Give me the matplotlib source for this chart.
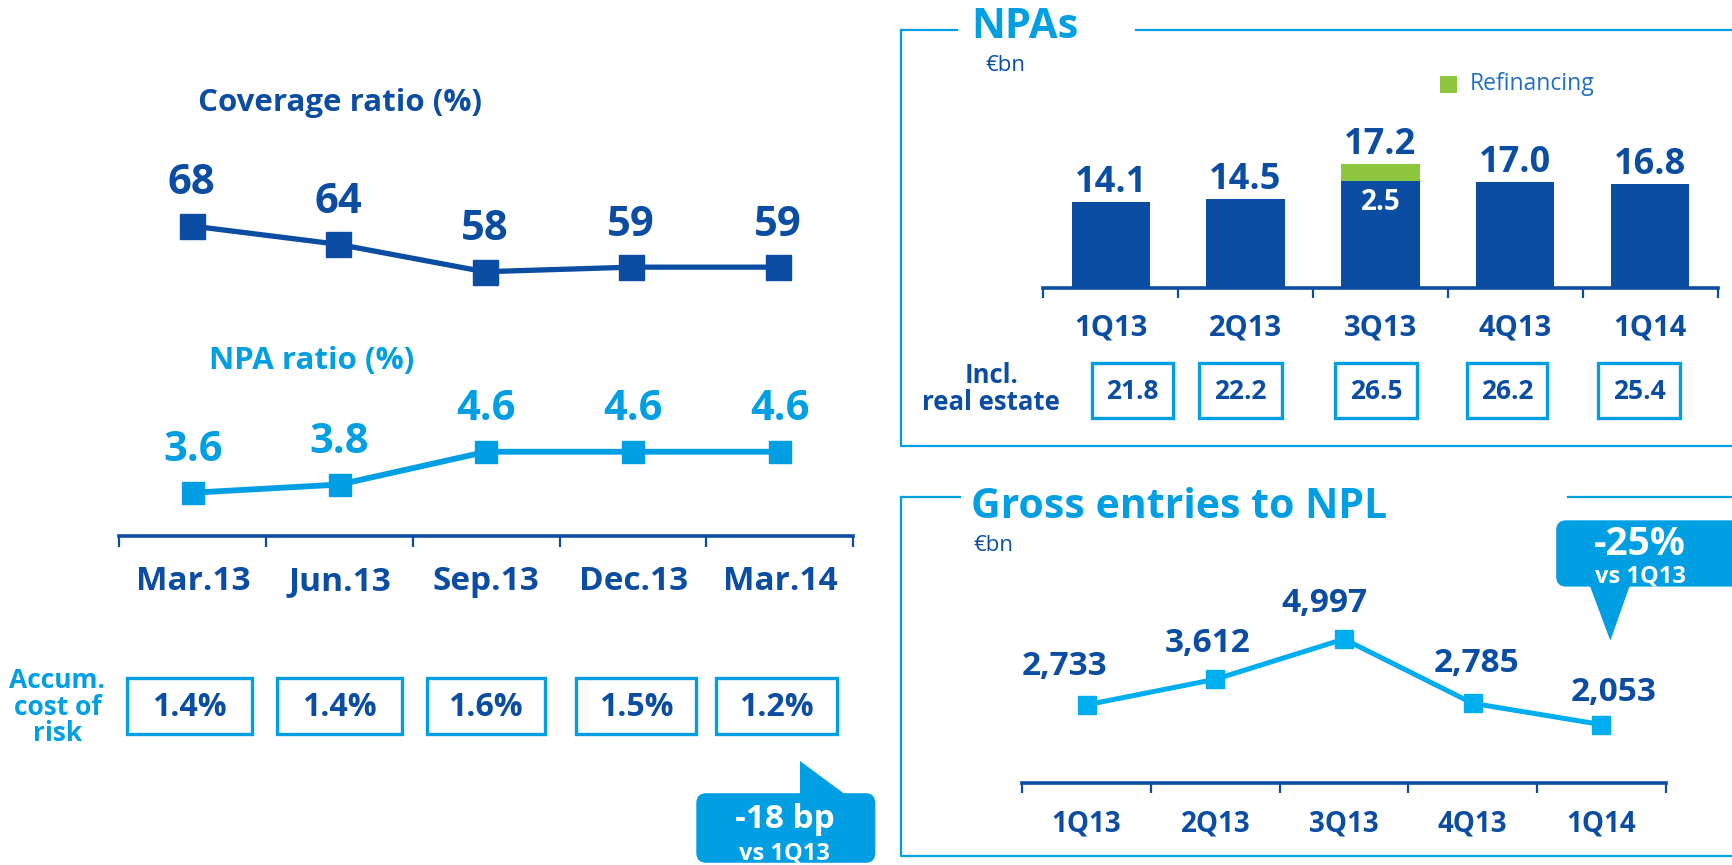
import matplotlib
matplotlib.use('Agg')
import matplotlib.pyplot as plt
from matplotlib.patches import Rectangle, FancyBboxPatch, Polygon

# ---------------- data ----------------
months = ['Mar.13', 'Jun.13', 'Sep.13', 'Dec.13', 'Mar.14']
coverage = [68, 64, 58, 59, 59]
npa_ratio = [3.6, 3.8, 4.6, 4.6, 4.6]
cost_of_risk = ['1.4%', '1.4%', '1.6%', '1.5%', '1.2%']

quarters = ['1Q13', '2Q13', '3Q13', '4Q13', '1Q14']
npa_total = [14.1, 14.5, 17.2, 17.0, 16.8]
refinancing = [0, 0, 2.5, 0, 0]
npa_incl_re = ['21.8', '22.2', '26.5', '26.2', '25.4']

gross_entries = [2733, 3612, 4997, 2785, 2053]
gross_labels = ['2,733', '3,612', '4,997', '2,785', '2,053']

# ---------------- style ----------------
plt.rcParams['font.family'] = ['Open Sans', 'DejaVu Sans']
DARK = '#0B4DA2'
LIGHT = '#009FE3'
CYAN = '#00AEEF'
GREEN = '#8DC63F'

W, H = 1568, 783  # layout units (reference display size)
fig = plt.figure(figsize=(17.33, 8.65), dpi=100)


def rect(x0, y0, x1, y1):
    return [x0 / W, 1 - y1 / H, (x1 - x0) / W, (y1 - y0) / H]


ov = fig.add_axes([0, 0, 1, 1])
ov.set_xlim(0, W)
ov.set_ylim(H, 0)
ov.axis('off')


def T(x, y, s, size, color=DARK, weight='bold', ha='center', va='center', **kw):
    ov.text(x, y, s, fontsize=size, color=color, fontweight=weight, ha=ha, va=va, **kw)


def box(x0, y0, x1, y1, color=LIGHT, lw=2.4):
    ov.add_patch(Rectangle((x0, y0), x1 - x0, y1 - y0, fill=False, edgecolor=color, lw=lw))


def style_axis(ax, labels, pad, size, ticklen=7):
    for s in ['top', 'left', 'right']:
        ax.spines[s].set_visible(False)
    ax.spines['bottom'].set_color(DARK)
    ax.spines['bottom'].set_linewidth(2.6)
    ax.set_yticks([])
    ax.set_xticks([i - 0.5 for i in range(len(labels) + 1)])
    ax.set_xticklabels([])
    ax.tick_params(axis='x', which='major', direction='out', length=ticklen, width=1.6, color=DARK)
    ax.set_xticks(range(len(labels)), minor=True)
    ax.set_xticklabels(labels, minor=True)
    ax.tick_params(axis='x', which='minor', length=0, pad=pad, labelsize=size, labelcolor=DARK)
    for t in ax.get_xticklabels(minor=True):
        t.set_fontweight('bold')
    ax.patch.set_alpha(0)


# ---------------- left: coverage ratio ----------------
T(308, 93, 'Coverage ratio (%)', 22.5)
ax1 = fig.add_axes(rect(107, 130, 770, 270))
ax1.set_xlim(-0.5, 4.5)
ax1.set_ylim(52.2, 86.0)
ax1.axis('off')
ax1.plot(range(5), coverage, color=DARK, lw=3.8, marker='s', ms=18, mfc=DARK, mec=DARK)
for i, v in enumerate(coverage):
    ax1.annotate(f'{v}', (i, v), xytext=(0, 42), textcoords='offset pixels',
                 ha='center', va='center', fontsize=30, fontweight='bold', color=DARK)

# ---------------- left: NPA ratio ----------------
T(282, 327, 'NPA ratio (%)', 22.5, color=LIGHT)
ax2 = fig.add_axes(rect(108, 360, 772, 485))
ax2.set_xlim(-0.5, 4.5)
ax2.set_ylim(2.549, 5.918)
ax2.plot(range(5), npa_ratio, color=LIGHT, lw=4.2, marker='s', ms=16.5, mfc=LIGHT, mec=LIGHT)
for i, v in enumerate(npa_ratio):
    ax2.annotate(f'{v:.1f}', (i, v), xytext=(0, 42), textcoords='offset pixels',
                 ha='center', va='center', fontsize=30, fontweight='bold', color=LIGHT)
style_axis(ax2, months, pad=21, size=24, ticklen=8)

# cost of risk boxes
T(52, 640, 'Accum.\ncost of\nrisk', 19, color=LIGHT, linespacing=0.98)
left_boxes = [(115, 228), (251, 364), (386, 493), (521, 630), (648, 757)]
for (x0, x1), s in zip(left_boxes, cost_of_risk):
    box(x0, 614, x1, 664)
    T((x0 + x1) / 2, 640, s, 23)

# -18 bp callout
ov.add_patch(FancyBboxPatch((630, 718), 162, 63, boxstyle='round,pad=0,rounding_size=9',
                            fc=LIGHT, ec='none'))
ov.add_patch(Polygon([(724, 689), (724, 720), (765, 720)], closed=True, fc=LIGHT, ec='none'))
T(710, 742, '-18 bp', 24, color='white')
T(710, 773, 'vs 1Q13', 17, color='white')

# ---------------- right top: NPAs ----------------
ov.plot([815, 815, W + 5], [27, 404, 404], color=LIGHT, lw=1.6)
ov.plot([815, 866], [27, 27], color=LIGHT, lw=1.6)
ov.plot([1028, W + 5], [27, 27], color=LIGHT, lw=1.6)
T(879, 25, 'NPAs', 30, color=LIGHT, ha='left')
T(892, 59, '€bn', 16, weight='normal', ha='left')
ov.add_patch(Rectangle((1303, 69), 15, 15, fc=GREEN, ec='none'))
T(1330, 76, 'Refinancing', 16.5, color='#1F6FC5', weight='normal', ha='left')

ax3 = fig.add_axes(rect(944, 100, 1554, 261))
ax3.set_xlim(-0.5, 4.5)
ax3.set_ylim(1.0, 1.0 + 161 / 6.0)
ax3.bar(range(5), npa_total, width=0.58, color=DARK, zorder=2)
ref_x = [i for i, r in enumerate(refinancing) if r > 0]
ax3.bar(ref_x, [refinancing[i] for i in ref_x], bottom=[npa_total[i] for i in ref_x],
        width=0.58, color=GREEN, zorder=2)
for i, (v, r) in enumerate(zip(npa_total, refinancing)):
    ax3.annotate(f'{v:.1f}', (i, v + r), xytext=(0, 19), textcoords='offset pixels',
                 ha='center', va='center', fontsize=26, fontweight='bold', color=DARK)
    if r > 0:
        ax3.annotate(f'{r:.1f}', (i, v), xytext=(0, -22), textcoords='offset pixels',
                     ha='center', va='center', fontsize=20, fontweight='bold', color='white')
style_axis(ax3, quarters, pad=18, size=21, ticklen=7)

T(897, 352, 'Incl.\nreal estate', 18.5, linespacing=1.0)
npa_boxes = [(988, 1061), (1085, 1160), (1208, 1282), (1327, 1400), (1446, 1520)]
for (x0, x1), s in zip(npa_boxes, npa_incl_re):
    box(x0, 329, x1, 378)
    T((x0 + x1) / 2, 354, s, 19)

# ---------------- right bottom: gross entries ----------------
ov.plot([815, 815, W + 5], [450, 775, 775], color=LIGHT, lw=1.6)
ov.plot([815, 869], [450, 450], color=LIGHT, lw=1.6)
ov.plot([1419, W + 5], [450, 450], color=LIGHT, lw=1.6)
T(879, 459, 'Gross entries to NPL', 29.5, color=LIGHT, ha='left')
T(881, 494, '€bn', 16, weight='normal', ha='left')

ax4 = fig.add_axes(rect(925, 540, 1507, 708.6))
ax4.set_xlim(-0.5, 4.5)
ax4.set_ylim(47, 6462)
ax4.plot(range(5), gross_entries, color=CYAN, lw=3.6, marker='s', ms=13, mfc=CYAN, mec=CYAN)
gdx = [-22, -8, -20, 4, 12]
gdy = [38, 36, 36, 40, 32]
for i, (v, s) in enumerate(zip(gross_entries, gross_labels)):
    ax4.annotate(s, (i, v), xytext=(gdx[i], gdy[i]), textcoords='offset pixels',
                 ha='center', va='center', fontsize=24, fontweight='bold', color=DARK)
style_axis(ax4, quarters, pad=19, size=20, ticklen=7)

# -25% callout
ov.add_patch(FancyBboxPatch((1408, 471), 175, 60, boxstyle='round,pad=0,rounding_size=9',
                            fc=LIGHT, ec='none'))
ov.add_patch(Polygon([(1438, 529), (1475, 529), (1457, 580)], closed=True, fc=LIGHT, ec='none'))
T(1484, 493, '-25%', 28, color='white')
T(1484, 522, 'vs 1Q13', 17, color='white')

fig.savefig('out.png', dpi=100)
